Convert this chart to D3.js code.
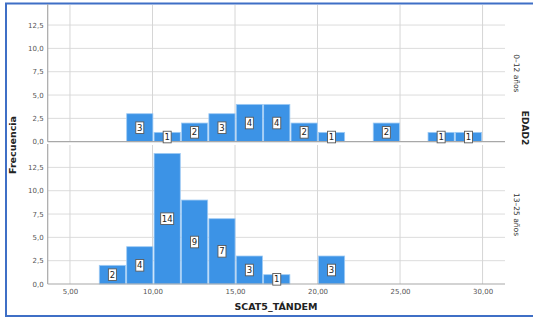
<!DOCTYPE html>
<html>
<head>
<meta charset="utf-8">
<script src="https://cdn.jsdelivr.net/npm/d3@7"></script>
<style>
  html, body { margin: 0; padding: 0; background: #fff; }
  svg { display: block; }
</style>
</head>
<body>
<svg id="chart" width="533" height="322"></svg>
<script>
// Histogram bins of SCAT5_TÁNDEM (left edges, shared width)
const binEdges = [6.74, 8.40, 10.06, 11.72, 13.38, 15.04, 16.70, 18.36, 20.02, 21.68, 23.34, 25.00, 26.66, 28.32];
const binWidth = 1.66;

// Frequencies per bin, one panel per EDAD2 group
const groups = ["0–12 años", "13–25 años"];
const countsYoung = [0, 3, 1, 2, 3, 4, 4, 2, 1, 0, 2, 0, 1, 1];
const countsTeen  = [2, 4, 14, 9, 7, 3, 1, 0, 3, 0, 0, 0, 0, 0];

// Tick labels
const xTicks = [5, 10, 15, 20, 25, 30];
const yTicks = [0, 2.5, 5, 7.5, 10, 12.5];

const svg = d3.select("#chart");
const locale = d3.formatLocale({ decimal: ",", thousands: ".", grouping: [3], currency: ["", ""] });
const fmtY = locale.format(".1f");
const fmtX = locale.format(".2f");

const plotLeft = 47.7, plotRight = 505;
const x = d3.scaleLinear().domain([3.65, 31.36]).range([plotLeft, plotRight]);

const panels = [
  { name: groups[0], counts: countsYoung, y: d3.scaleLinear().domain([0, 14.65]).range([141.7, 5]) },
  { name: groups[1], counts: countsTeen,  y: d3.scaleLinear().domain([0, 14.9]).range([284, 145]) }
];

// Outer frame
svg.append("rect").attr("x", 6).attr("y", 3.5).attr("width", 540).attr("height", 312.5)
  .attr("fill", "none").attr("stroke", "#3f6fc6").attr("stroke-width", 2);

const tickFont = "'DejaVu Sans', sans-serif";

panels.forEach((p, pi) => {
  const g = svg.append("g");
  const [y0, y1] = p.y.range();

  // horizontal gridlines
  g.selectAll("line.hg").data(yTicks.filter(t => t > 0)).join("line")
    .attr("x1", plotLeft).attr("x2", plotRight)
    .attr("y1", d => p.y(d)).attr("y2", d => p.y(d))
    .attr("stroke", "#dcdcdc").attr("stroke-width", 1);

  // vertical gridlines
  g.selectAll("line.vg").data(xTicks).join("line")
    .attr("x1", d => x(d)).attr("x2", d => x(d))
    .attr("y1", y1).attr("y2", y0)
    .attr("stroke", "#d6d6d6").attr("stroke-width", 1);

  // y axis
  const yAxis = d3.axisLeft(p.y).tickValues(yTicks).tickFormat(fmtY).tickSize(0).tickPadding(4);
  const ya = g.append("g").attr("transform", `translate(${plotLeft},0)`).call(yAxis);
  ya.select(".domain").remove();
  ya.selectAll("text").attr("font-family", tickFont).attr("font-size", 7).attr("fill", "#555");
  g.append("line").attr("x1", plotLeft).attr("x2", plotLeft).attr("y1", y1 - 1).attr("y2", y0)
    .attr("stroke", "#a8a8a8").attr("stroke-width", 1.2);

  // bars
  const data = binEdges.map((e, i) => ({ x0: e, x1: e + binWidth, n: p.counts[i] })).filter(d => d.n > 0);
  g.selectAll("rect.bar").data(data).join("rect")
    .attr("x", d => x(d.x0) + 0.6)
    .attr("width", d => x(d.x1) - x(d.x0) - 1.2)
    .attr("y", d => p.y(d.n))
    .attr("height", d => p.y(0) - p.y(d.n))
    .attr("fill", "#3c93e6").attr("stroke", "#9fcbf4").attr("stroke-width", 0.8);

  // baseline
  g.append("line").attr("x1", plotLeft).attr("x2", plotRight).attr("y1", y0).attr("y2", y0)
    .attr("stroke", "#a8a8a8").attr("stroke-width", 1.2);

  // value labels
  const lab = g.selectAll("g.lab").data(data).join("g")
    .attr("transform", d => `translate(${(x(d.x0) + x(d.x1)) / 2},${(p.y(d.n) + p.y(0)) / 2})`);
  lab.append("rect")
    .attr("x", d => d.n >= 10 ? -6.5 : -4)
    .attr("width", d => d.n >= 10 ? 13 : 8)
    .attr("y", -5.8).attr("height", 11.6)
    .attr("fill", "#fff").attr("stroke", "#5a5a5a").attr("stroke-width", 0.9);
  lab.append("text").text(d => d.n)
    .attr("text-anchor", "middle").attr("dy", "0.35em")
    .attr("font-family", tickFont).attr("font-size", 8.5).attr("fill", "#222");

  // group strip label
  svg.append("text").text(p.name)
    .attr("transform", `translate(517,${(y0 + y1) / 2}) rotate(90)`)
    .attr("text-anchor", "middle").attr("dy", "0.35em")
    .attr("font-family", tickFont).attr("font-size", 7.5).attr("fill", "#333");
});

// x axis under the lower panel
const xa = svg.append("g").attr("transform", "translate(0,284)")
  .call(d3.axisBottom(x).tickValues(xTicks).tickFormat(fmtX).tickSize(0).tickPadding(5));
xa.select(".domain").remove();
xa.selectAll("text").attr("font-family", tickFont).attr("font-size", 7).attr("fill", "#555");

// axis titles
svg.append("text").text("SCAT5_TÁNDEM")
  .attr("x", 276).attr("y", 310).attr("text-anchor", "middle")
  .attr("font-family", tickFont).attr("font-weight", "bold").attr("font-size", 9.5).attr("fill", "#222");
svg.append("text").text("Frecuencia")
  .attr("transform", "translate(16,145) rotate(-90)").attr("text-anchor", "middle")
  .attr("font-family", tickFont).attr("font-weight", "bold").attr("font-size", 9.5).attr("fill", "#222");
svg.append("text").text("EDAD2")
  .attr("transform", "translate(525,128) rotate(90)").attr("text-anchor", "middle")
  .attr("dy", "0.35em")
  .attr("font-family", tickFont).attr("font-weight", "bold").attr("font-size", 9).attr("fill", "#222");
</script>
</body>
</html>
